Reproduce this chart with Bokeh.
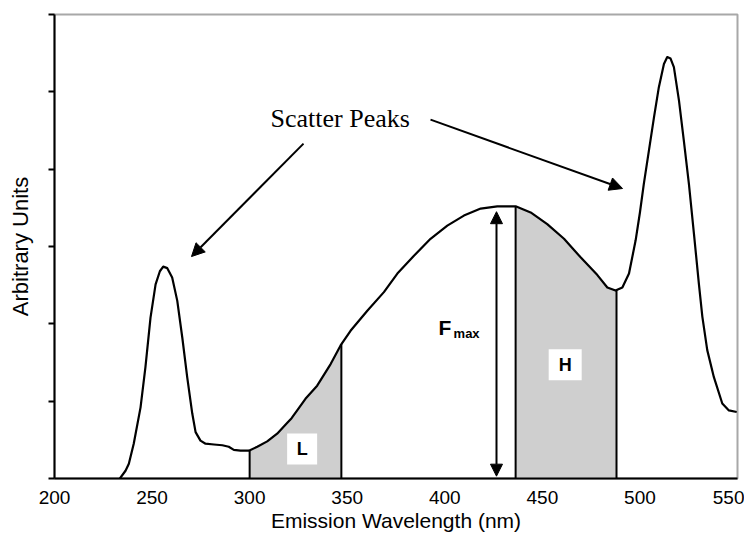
import numpy as np
from bokeh.plotting import figure
from bokeh.models import Range1d, FixedTicker, Arrow, NormalHead, Label, CustomJSTickFormatter
from bokeh.core.properties import value
from bokeh.embed import file_html
from bokeh.resources import INLINE

# Emission spectrum (wavelength nm, arbitrary units)
wavelength = [233.5, 236.4, 238.1, 240.6, 244.1, 246.6, 249.2, 251.8, 254.0, 255.7,
              257.8, 260.3, 262.9, 265.5, 268.0, 270.6, 272.3, 274.8, 277.4, 281.7,
              286.0, 289.3, 291.9, 295.3, 299.6, 303.9, 309.0, 314.1, 319.3, 321.5,
              328.6, 334.6, 341.5, 346.6, 351.7, 360.3, 368.8, 375.7, 384.2, 392.7,
              401.3, 409.8, 418.4, 426.9, 436.3, 444.0, 452.5, 461.1, 469.6, 478.2,
              483.3, 487.5, 491.0, 494.4, 497.8, 500.0, 502.0, 504.6, 507.2, 509.7,
              512.3, 514.0, 515.7, 517.4, 520.0, 522.5, 525.1, 527.7, 530.2, 532.0,
              534.5, 537.9, 542.2, 545.6, 549.6]
intensity = [0.00, 0.10, 0.19, 0.45, 0.92, 1.44, 2.08, 2.51, 2.68, 2.74,
             2.72, 2.60, 2.30, 1.82, 1.31, 0.84, 0.60, 0.49, 0.45, 0.44,
             0.43, 0.41, 0.37, 0.36, 0.36, 0.41, 0.48, 0.58, 0.72, 0.78,
             1.03, 1.20, 1.48, 1.72, 1.91, 2.17, 2.41, 2.65, 2.88, 3.10,
             3.27, 3.40, 3.49, 3.52, 3.52, 3.44, 3.29, 3.10, 2.86, 2.63,
             2.47, 2.43, 2.47, 2.65, 3.08, 3.44, 3.81, 4.24, 4.67, 5.06,
             5.36, 5.45, 5.43, 5.32, 4.89, 4.37, 3.81, 3.16, 2.52, 2.09,
             1.66, 1.31, 0.97, 0.88, 0.86]

x_ticks = [200, 250, 300, 350, 400, 450, 500, 550]
y_ticks = [0, 1, 2, 3, 4, 5, 6]

L_band = [300.0, 347.0]
H_band = [436.3, 488.0]
fmax_x = 426.5
fmax_span = [0.03, 3.46]

FONT = "Liberation Sans"

p = figure(width=744, height=539, output_backend="svg", toolbar_location=None,
           x_range=Range1d(200, 550), y_range=Range1d(0, 6),
           min_border_left=54, min_border_right=7, min_border_top=14, min_border_bottom=61)
p.grid.visible = False
p.outline_line_color = "#a8a8a8"
p.outline_line_width = 2
p.background_fill_color = "white"

wl = np.array(wavelength)
it = np.array(intensity)


def band(lo, hi):
    inside = (wl > lo) & (wl < hi)
    xs = np.concatenate([[lo], wl[inside], [hi]])
    ys = np.interp(xs, wl, it)
    return xs, ys


for lo, hi in (L_band, H_band):
    xs, ys = band(lo, hi)
    p.varea(x=xs, y1=np.zeros_like(xs), y2=ys, fill_color="#cfcfcf")
    edge_y = np.interp([lo, hi], wl, it)
    p.segment(x0=[lo, hi], y0=[0, 0], x1=[lo, hi], y1=edge_y, line_color="black", line_width=2)

p.line(wl, it, line_color="black", line_width=2.2, line_join="round")

# Fmax double arrow
p.add_layout(Arrow(x_start=fmax_x, y_start=fmax_span[1] - 0.01, x_end=fmax_x, y_end=fmax_span[0],
                   line_width=2, line_color="black",
                   start=NormalHead(size=12, fill_color="black", line_color="black"),
                   end=NormalHead(size=12, fill_color="black", line_color="black")))

# Scatter peak arrows
for xs_, ys_, xe, ye in [(327.6, 4.33, 270.2, 2.87), (392.7, 4.64, 491.1, 3.75)]:
    p.add_layout(Arrow(x_start=xs_, y_start=ys_, x_end=xe, y_end=ye, line_width=2,
                       line_color="black",
                       end=NormalHead(size=13, fill_color="black", line_color="black")))

p.add_layout(Label(x=310.7, y=4.66, text="Scatter Peaks", text_font="Liberation Serif",
                   text_font_size="26px", text_baseline="alphabetic", text_color="black"))

# F_max label
p.add_layout(Label(x=396.8, y=1.95, text="F", text_font=FONT, text_font_style="bold",
                   text_font_size="21px", text_baseline="alphabetic", text_color="black"))
p.add_layout(Label(x=404.5, y=1.88, text="max", text_font=FONT, text_font_style="bold",
                   text_font_size="13px", text_baseline="alphabetic", text_color="black"))

# L and H boxes
p.rect(x=[326.9, 461.7], y=[0.38, 1.47], width=[30, 33], height=[31, 31],
       width_units="screen", height_units="screen", fill_color="white", line_color=None)
p.text(x=[326.9, 461.7], y=[0.38, 1.47], text=["L", "H"], text_font=value(FONT),
       text_font_style="bold", text_font_size="18px", text_align="center",
       text_baseline="middle", text_color="black")

# axes
p.xaxis.ticker = FixedTicker(ticks=x_ticks)
p.xaxis.axis_label = "Emission Wavelength (nm)"
p.xaxis.major_tick_out = 0
p.xaxis.major_tick_in = 0
p.xaxis.minor_tick_line_color = None
p.xaxis.major_label_standoff = 12
p.xaxis.axis_label_standoff = 2
p.xaxis.major_label_text_font_size = "19px"
p.xaxis.axis_label_text_font_size = "21px"

p.yaxis.ticker = FixedTicker(ticks=y_ticks)
p.yaxis.formatter = CustomJSTickFormatter(code="return '';")
p.yaxis.axis_label = "Arbitrary Units"
p.yaxis.major_tick_out = 6
p.yaxis.major_tick_in = 0
p.yaxis.minor_tick_line_color = None
p.yaxis.major_label_standoff = 0
p.yaxis.axis_label_standoff = 16
p.yaxis.axis_label_text_font_size = "22px"

for ax in (p.xaxis, p.yaxis):
    ax.axis_line_color = "black"
    ax.axis_line_width = 2
    ax.major_tick_line_color = "black"
    ax.major_tick_line_width = 2
    ax.major_label_text_font = FONT
    ax.axis_label_text_font = FONT
    ax.axis_label_text_font_style = "normal"
    ax.major_label_text_color = "black"
    ax.axis_label_text_color = "black"

open("out.html", "w").write(file_html(p, INLINE))
